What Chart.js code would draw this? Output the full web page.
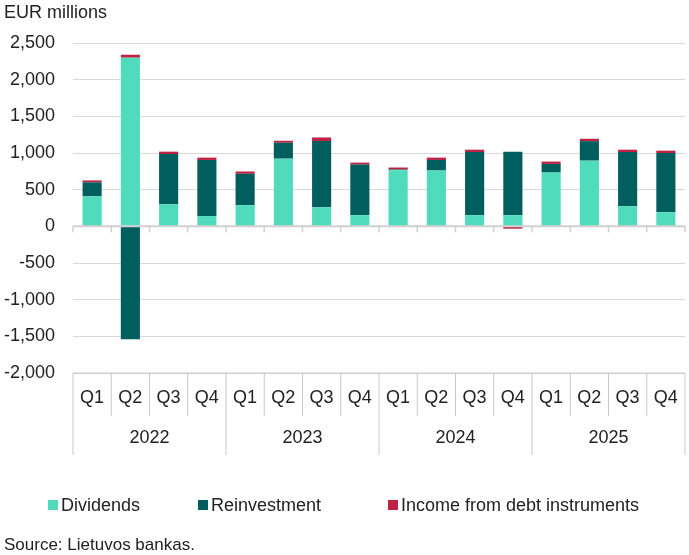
<!DOCTYPE html>
<html><head><meta charset="utf-8">
<script src="https://cdn.jsdelivr.net/npm/chart.js@4"></script>
<style>html,body{margin:0;padding:0;background:#fff}#w{position:relative;width:689px;height:555px}</style>
</head><body><div id="w"><canvas id="c" width="689" height="555"></canvas></div>
<script>
const quarters=["Q1","Q2","Q3","Q4","Q1","Q2","Q3","Q4","Q1","Q2","Q3","Q4","Q1","Q2","Q3","Q4"];
const years=["2022","2023","2024","2025"];
const dividends=[410,2300,300,140,288,923,261,153,766,761,153,153,734,896,275,194];
const reinvestment=[190,-1540,686,765,428,217,901,689,9,144,861,865,117,266,739,806];
const debtIncome=[26,40,32,32,32,27,50,27,27,32,31,-32,32,32,31,32];
const yTicks=[-2000,-1500,-1000,-500,0,500,1000,1500,2000,2500];
const F='"Liberation Sans", Arial, sans-serif';
const extra={id:'extra',afterDraw(ch){
  const c=ch.ctx,x=ch.scales.x,y=ch.scales.y,a=ch.chartArea;
  c.save();
  const y0=y.getPixelForValue(0);
  c.strokeStyle='#d0d0d0';c.lineWidth=2;
  c.beginPath();c.moveTo(a.left,y0);c.lineTo(a.right,y0);c.stroke();
  const step=(a.right-a.left)/quarters.length;
  c.lineWidth=1.5;
  for(let i=0;i<=quarters.length;i++){const px=a.left+i*step;c.beginPath();c.moveTo(px,y0);c.lineTo(px,y0+6);c.stroke();}
  c.strokeStyle='#c8c8c8';c.lineWidth=1;
  c.beginPath();c.moveTo(a.left,a.bottom);c.lineTo(a.right,a.bottom);c.stroke();
  for(let i=0;i<=quarters.length;i++){const px=a.left+i*step;const big=i%4===0;
    c.beginPath();c.moveTo(px,a.bottom);c.lineTo(px,big?455:416);c.stroke();}
  c.fillStyle='#222';c.font='18px '+F;c.textAlign='center';c.textBaseline='middle';
  years.forEach((yr,i)=>c.fillText(yr,a.left+(i*4+2)*step,438));
  c.textAlign='left';c.fillText('EUR millions',4,13);
  c.font='17px '+F;c.fillText('Source: Lietuvos bankas.',4,545);
  const items=[['Dividends','#50dbbd',48],['Reinvestment','#005f5e',198],['Income from debt instruments','#be2346',388]];
  c.font='18px '+F;
  items.forEach(([t,col,px])=>{c.fillStyle=col;c.fillRect(px,500,10,10);c.fillStyle='#222';c.fillText(t,px+13,506);});
  c.restore();
}};
new Chart(document.getElementById('c'),{type:'bar',
 data:{labels:quarters,datasets:[
  {label:'Dividends',data:dividends,backgroundColor:'#50dbbd'},
  {label:'Reinvestment',data:reinvestment,backgroundColor:'#005f5e'},
  {label:'Income from debt instruments',data:debtIncome,backgroundColor:'#be2346'}]},
 options:{responsive:false,animation:false,layout:{padding:{top:43,right:4,left:0,bottom:0}},
  datasets:{bar:{categoryPercentage:1,barPercentage:0.5}},
  plugins:{legend:{display:false},tooltip:{enabled:false}},
  scales:{
   x:{stacked:true,grid:{display:false},border:{display:false},
      ticks:{color:'#222',font:{size:18,family:F},padding:6},
      afterFit(s){s.height=182;}},
   y:{stacked:true,min:-2000,max:2500,
      afterBuildTicks(s){s.ticks=yTicks.map(v=>({value:v}));},
      grid:{color:'#d9d9d9',lineWidth:1,drawTicks:false},border:{display:false},
      ticks:{color:'#222',font:{size:18,family:F},padding:18,callback:v=>v.toLocaleString('en-US')},
      afterFit(s){s.width=73;}}}},
 plugins:[extra]});
</script></body></html>
